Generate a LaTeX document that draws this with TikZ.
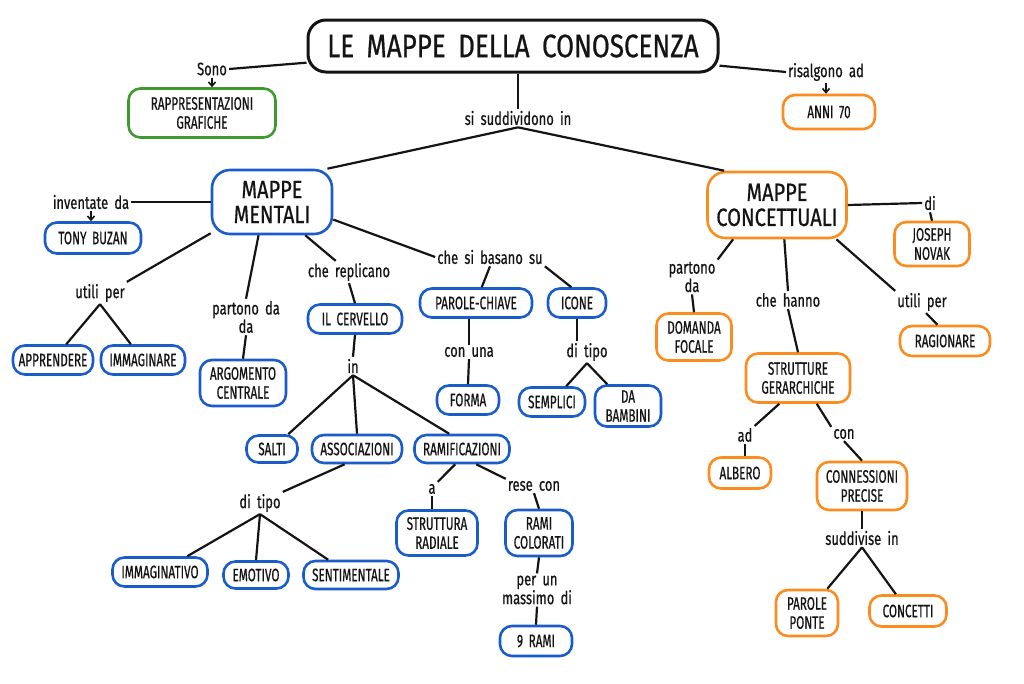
\documentclass[tikz,border=0pt]{standalone}
\usepackage{fontspec}
\setmainfont[FakeStretch=0.72,WordSpace=1.8,FakeBold=0.6]{Fira Sans}
\newfontfamily\boxfont[FakeStretch=0.65,WordSpace=1.8,FakeBold=0.6]{Fira Sans}
\newfontfamily\titlefont[FakeStretch=0.8,WordSpace=1.8,FakeBold=0.6]{Fira Sans}
\usetikzlibrary{arrows.meta}
\definecolor{cblue}{HTML}{1A5CC8}
\definecolor{corange}{HTML}{FB8C1F}
\definecolor{cgreen}{HTML}{3D9B2D}
\definecolor{cink}{HTML}{141414}
\tikzset{
  box/.style={draw, line width=2.6pt, rounded corners=12pt, fill=white, align=center,
    inner sep=3pt, text=cink, font=\boxfont\fontsize{18}{19}\selectfont},
  bb/.style={box, draw=cblue},
  ob/.style={box, draw=corange},
  gb/.style={box, draw=cgreen},
  bigbox/.style={rounded corners=18pt, font=\titlefont\fontsize{25}{25}\selectfont},
  sz/.style n args={2}{minimum width=#1pt, minimum height=#2pt},
  lbl/.style={align=center, inner sep=2pt, text=cink, font=\fontsize{18}{17}\selectfont},
  conn/.style={line width=2.2pt, draw=cink},
  arr/.style={line width=1.6pt, draw=cink, -{Straight Barb[length=4pt,width=7pt]}},
}
\begin{document}
\begin{tikzpicture}[x=1pt,y=-1pt]
\fill[white] (0,0) rectangle (1024,683);
\useasboundingbox (0,0) rectangle (1024,683);

% title
\node[box, draw=cink, line width=3pt, rounded corners=18pt, sz={410}{52},
  font=\titlefont\fontsize{32.5}{34}\selectfont] (title) at (513,46) {LE MAPPE DELLA CONOSCENZA};

% labels
\node[lbl] (sono) at (212,69) {Sono};
\node[lbl] (risal) at (826,72) {risalgono ad};
\node[lbl] (sudd) at (518,118) {si suddividono in};
\node[lbl] (invent) at (91,202) {inventate da};
\node[lbl] (utili) at (100,293) {utili per};
\node[lbl] (partono) at (246,317) {partono da\\da};
\node[lbl] (replic) at (349,272) {che replicano};
\node[lbl] (in) at (353,366) {in};
\node[lbl] (ditipoA) at (260,503) {di tipo};
\node[lbl] (a) at (432,489) {a};
\node[lbl] (rese) at (534,486) {rese con};
\node[lbl] (perun) at (537,590) {per un\\massimo di};
\node[lbl] (basano) at (490,257) {che si basano su};
\node[lbl] (conuna) at (469,352) {con una};
\node[lbl] (ditipoB) at (587,352) {di tipo};
\node[lbl] (partonoB) at (692,277) {partono\\da};
\node[lbl] (hanno) at (788,300) {che hanno};
\node[lbl] (utiliB) at (922,302) {utili per};
\node[lbl] (di) at (930,203) {di};
\node[lbl] (ad) at (745,435) {ad};
\node[lbl] (con) at (844,434) {con};
\node[lbl] (suddiv) at (862,538) {suddivise in};

% main boxes
\node[bb, bigbox, sz={120}{64}] (mm) at (272,202) {MAPPE\\MENTALI};
\node[ob, bigbox, sz={139}{66}] (mc) at (777,205) {MAPPE\\CONCETTUALI};

\node[gb, sz={147}{49}] (rapp) at (202,113) {RAPPRESENTAZIONI\\GRAFICHE};
\node[ob, sz={92}{34}] (anni) at (829,112) {ANNI 70};

% mappe mentali branch
\node[bb, sz={96}{31}] (tony) at (93,238) {TONY BUZAN};
\node[bb, sz={80}{29}] (appr) at (53,360) {APPRENDERE};
\node[bb, sz={84}{29}] (immag) at (143,360) {IMMAGINARE};
\node[bb, sz={86}{46}] (argo) at (243,383) {ARGOMENTO\\CENTRALE};
\node[bb, sz={94}{29}] (cerv) at (355,319) {IL CERVELLO};
\node[bb, sz={51}{27}] (salti) at (272,449) {SALTI};
\node[bb, sz={90}{28}] (assoc) at (357,449) {ASSOCIAZIONI};
\node[bb, sz={95}{28}] (ramif) at (462,449) {RAMIFICAZIONI};
\node[bb, sz={95}{29}] (imgt) at (160,572) {IMMAGINATIVO};
\node[bb, sz={65}{27}] (emot) at (256,575) {EMOTIVO};
\node[bb, sz={95}{28}] (sent) at (351,575) {SENTIMENTALE};
\node[bb, sz={81}{45}] (strut) at (437,533) {STRUTTURA\\RADIALE};
\node[bb, sz={67}{46}] (rami) at (539,533) {RAMI\\COLORATI};
\node[bb, sz={72}{30}] (nove) at (536,641) {9 RAMI};
\node[bb, sz={112}{29}] (parole) at (476,303) {PAROLE-CHIAVE};
\node[bb, sz={58}{29}] (icone) at (577,303) {ICONE};
\node[bb, sz={62}{29}] (forma) at (468,400) {FORMA};
\node[bb, sz={66}{29}] (sempl) at (552,402) {SEMPLICI};
\node[bb, sz={66}{41}] (bamb) at (628,406) {DA\\BAMBINI};

% mappe concettuali branch
\node[ob, sz={75}{47}] (domanda) at (694,337) {DOMANDA\\FOCALE};
\node[ob, sz={104}{49}] (strutt) at (798,378) {STRUTTURE\\GERARCHICHE};
\node[ob, sz={90}{30}] (ragion) at (945,341) {RAGIONARE};
\node[ob, sz={75}{44}] (joseph) at (932,244) {JOSEPH\\NOVAK};
\node[ob, sz={62}{31}] (albero) at (740,473) {ALBERO};
\node[ob, sz={90}{48}] (conness) at (862,486) {CONNESSIONI\\PRECISE};
\node[ob, sz={62}{46}] (ponte) at (807,613) {PAROLE\\PONTE};
\node[ob, sz={77}{31}] (concetti) at (908,611) {CONCETTI};

% connectors: title
\draw[conn] (title) -- (sono.east);
\draw[arr] (sono.south) -- (sono.south |- rapp.north);
\draw[conn] (title) -- (risal.west);
\draw[arr] (risal.south) -- (risal.south |- anni.north);
\draw[conn] (title.south -| sudd.north) -- (sudd.north);
\draw[conn] (sudd.south) -- (mm.31);
\draw[conn] (sudd.south) -- (mc.147);

% mappe mentali
\draw[conn] (mm.west) -- (invent.east);
\draw[arr] (invent.south) -- (invent.south |- tony.north);
\draw[conn] (mm.207) -- (utili.north east);
\draw[conn] (utili.south) -- (appr);
\draw[conn] (utili.south) -- (immag);
\draw[conn] (mm.248) -- (partono.north);
\draw[conn] (partono.south) -- (argo.north);
\draw[conn] (mm.-45) -- (replic.140);
\draw[conn] (replic.south) -- (cerv.north);
\draw[conn] (cerv.south) -- (in.north);
\draw[conn] (in.south) -- (salti);
\draw[conn] (in.south) -- (assoc.north);
\draw[conn] (in.south) -- (ramif.130);
\draw[conn] (assoc.231) -- (ditipoA.north east);
\draw[conn] (ditipoA.south) -- (imgt);
\draw[conn] (ditipoA.south) -- (emot.north);
\draw[conn] (ditipoA.south) -- (sent);
\draw[conn] (ramif.246) -- (a.north east);
\draw[conn] (ramif.-47) -- (rese.north west);
\draw[conn] (a.south) -- (strut.north -| a.south);
\draw[conn] (rese.south) -- (rami.north);
\draw[conn] (rami.south) -- (perun.north);
\draw[conn] (perun.south) -- (nove.north);
\draw[conn] (mm.-16) -- (basano.west);
\draw[conn] (basano.south) -- (parole.70);
\draw[conn] (basano.south east) -- (icone.110);
\draw[conn] (parole.south -| conuna.north) -- (conuna.north);
\draw[conn] (conuna.south) -- (forma.north);
\draw[conn] (icone.south) -- (icone.south |- ditipoB.north);
\draw[conn] (ditipoB.south) -- (sempl);
\draw[conn] (ditipoB.south) -- (bamb);

% mappe concettuali
\draw[conn] (mc.218) -- (partonoB.north east);
\draw[conn] (partonoB.south) -- (domanda.north);
\draw[conn] (mc.-78) -- (hanno.north);
\draw[conn] (hanno.south) -- (strutt.north);
\draw[conn] (mc.-30) -- (utiliB.north west);
\draw[conn] (utiliB.-70) -- (ragion.115);
\draw[conn] (mc.east) -- (di.west);
\draw[conn] (di.south) -- (joseph.north);
\draw[conn] (strutt.234) -- (ad.north east);
\draw[conn] (ad.south) -- (albero.north -| ad.south);
\draw[conn] (strutt.-54) -- (con.north west);
\draw[conn] (con.south) -- (conness.north);
\draw[conn] (conness.south) -- (suddiv.north);
\draw[conn] (suddiv.south) -- (ponte);
\draw[conn] (suddiv.south) -- (concetti);
\end{tikzpicture}
\end{document}
